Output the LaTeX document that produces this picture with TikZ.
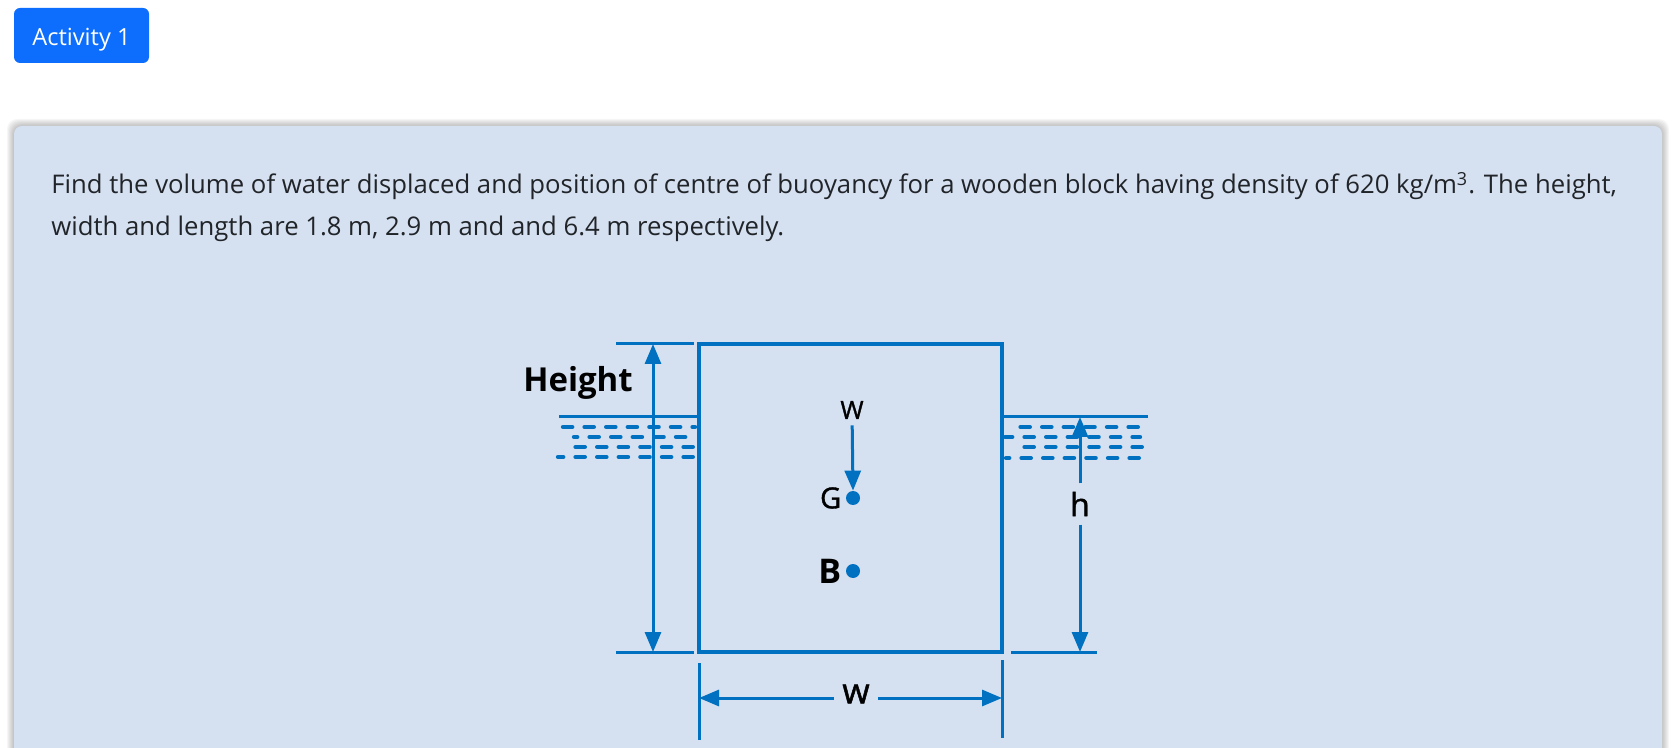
\documentclass[tikz,border=0pt]{standalone}
\usepackage{fontspec}
\setmainfont{Open Sans}
\newfontfamily\medfont[FakeBold=1.3]{Open Sans}
\usetikzlibrary{arrows.meta,positioning}
\definecolor{btnblue}{HTML}{0D6EFD}
\definecolor{cardbg}{HTML}{D5E0F1}
\definecolor{figblue}{HTML}{0070C0}
\definecolor{bodytext}{HTML}{212529}

\begin{document}
\begin{tikzpicture}[x=0.5pt, y=-0.5pt,
    fig/.style = {draw=figblue, line width=1.7pt},
    dim/.style = {draw=figblue, line width=1.5pt},
    arr/.style = {dim, -{Triangle[length=10pt, width=8pt]}},
    wave/.style = {draw=figblue, line width=2.2pt, line cap=round, dash pattern=on 4.6pt off 6.2pt},
    lbl/.style = {text=black, inner sep=1pt},
    dot/.style = {circle, fill=figblue, minimum size=7pt, inner sep=0pt},
    body/.style = {anchor=base west, text=bodytext, inner sep=0pt, font=\fontsize{12.85}{15}\selectfont}]
    \useasboundingbox (0,0) rectangle (1676,748);

    % card with shadow
    \foreach \s in {1,...,7}
        \fill[black, opacity=0.035, rounded corners=5pt] (14-\s,126-\s) rectangle (1662+\s,780);
    \fill[cardbg, rounded corners=4pt] (14,126) rectangle (1662,780);

    % button
    \node[fill=btnblue, rounded corners=3pt, minimum width=67.5pt, minimum height=27.5pt] (act) at (81.5,35.5) {};
    \node[anchor=base, text=white, inner sep=0pt, font=\fontsize{11.8}{14}\selectfont] (acttext) at (81.5,46) {Activity 1};

    % question
    \node[body] (line1) at (51,194) {Find the volume of water displaced and position of centre of buoyancy for a wooden block having density of 620 kg/m\textsuperscript{3}. The height,};
    \node[body] (line2) at (51,236) {width and length are 1.8 m, 2.9 m and and 6.4 m respectively.};

    % block
    \coordinate (tl) at (699,344);
    \coordinate (br) at (1002,652);
    \draw[fig] (tl) rectangle (br);

    % water
    \draw[dim] (559,417) -- (699,417);
    \draw[dim] (1002,417) -- (1148,417);
    \draw[wave, dash phase=0pt]  (563,427) -- (695,427);
    \draw[wave, dash phase=3pt]  (574,437) -- (695,437);
    \draw[wave, dash phase=6pt]  (566,447) -- (693,447);
    \draw[wave, dash phase=2pt]  (558,457) -- (695,457);
    \draw[wave, dash phase=5pt]  (1009,427) -- (1146,427);
    \draw[wave, dash phase=1pt]  (1005,437) -- (1140,437);
    \draw[wave, dash phase=7pt]  (1017,447) -- (1146,447);
    \draw[wave, dash phase=3pt]  (1006,458) -- (1140,458);

    % height
    \draw[dim] (616,344) -- (694,344);
    \draw[dim] (616,652) -- (694,652);
    \draw[dim] (1011,652) -- (1097,652);
    \coordinate (htop) at (653,344);
    \coordinate (hbot) at (653,652);
    \draw[arr, {Triangle[length=10pt, width=8pt]}-{Triangle[length=10pt, width=8pt]}] (htop) -- (hbot);
    \node[lbl, font=\bfseries\fontsize{16.5}{18}\selectfont] (height) at (578,383) {Height};

    % h
    \node[lbl, font=\medfont\fontsize{16}{18}\selectfont, inner sep=4pt] (h) at (1080,504) {h};
    \draw[arr] (h) -- (1080,417);
    \draw[arr] (h) -- (1080,652);

    % weight, G and B
    \node[dot] (gdot) at (853,498) {};
    \node[dot] (bdot) at (853,571) {};
    \node[lbl, font=\medfont\fontsize{14.5}{16}\selectfont] (g) [left=1pt of gdot] {G};
    \node[lbl, font=\bfseries\fontsize{17}{18}\selectfont] (b) [left=1pt of bdot] {B};
    \node[lbl, font=\medfont\fontsize{12.5}{14}\selectfont, inner sep=3pt] (wt) at (852,410) {W};
    \draw[arr] (wt) -- (gdot.north);

    % width
    \draw[dim] (699,663) -- (699,740);
    \draw[dim] (1002,660) -- (1002,738);
    \node[lbl, font=\medfont\fontsize{17.5}{18}\selectfont, inner sep=4pt] (w) at (856,694) {w};
    \draw[arr] (w.west |- 0,698) -- (699,698);
    \draw[arr] (w.east |- 0,698) -- (1002,698);
\end{tikzpicture}
\end{document}
